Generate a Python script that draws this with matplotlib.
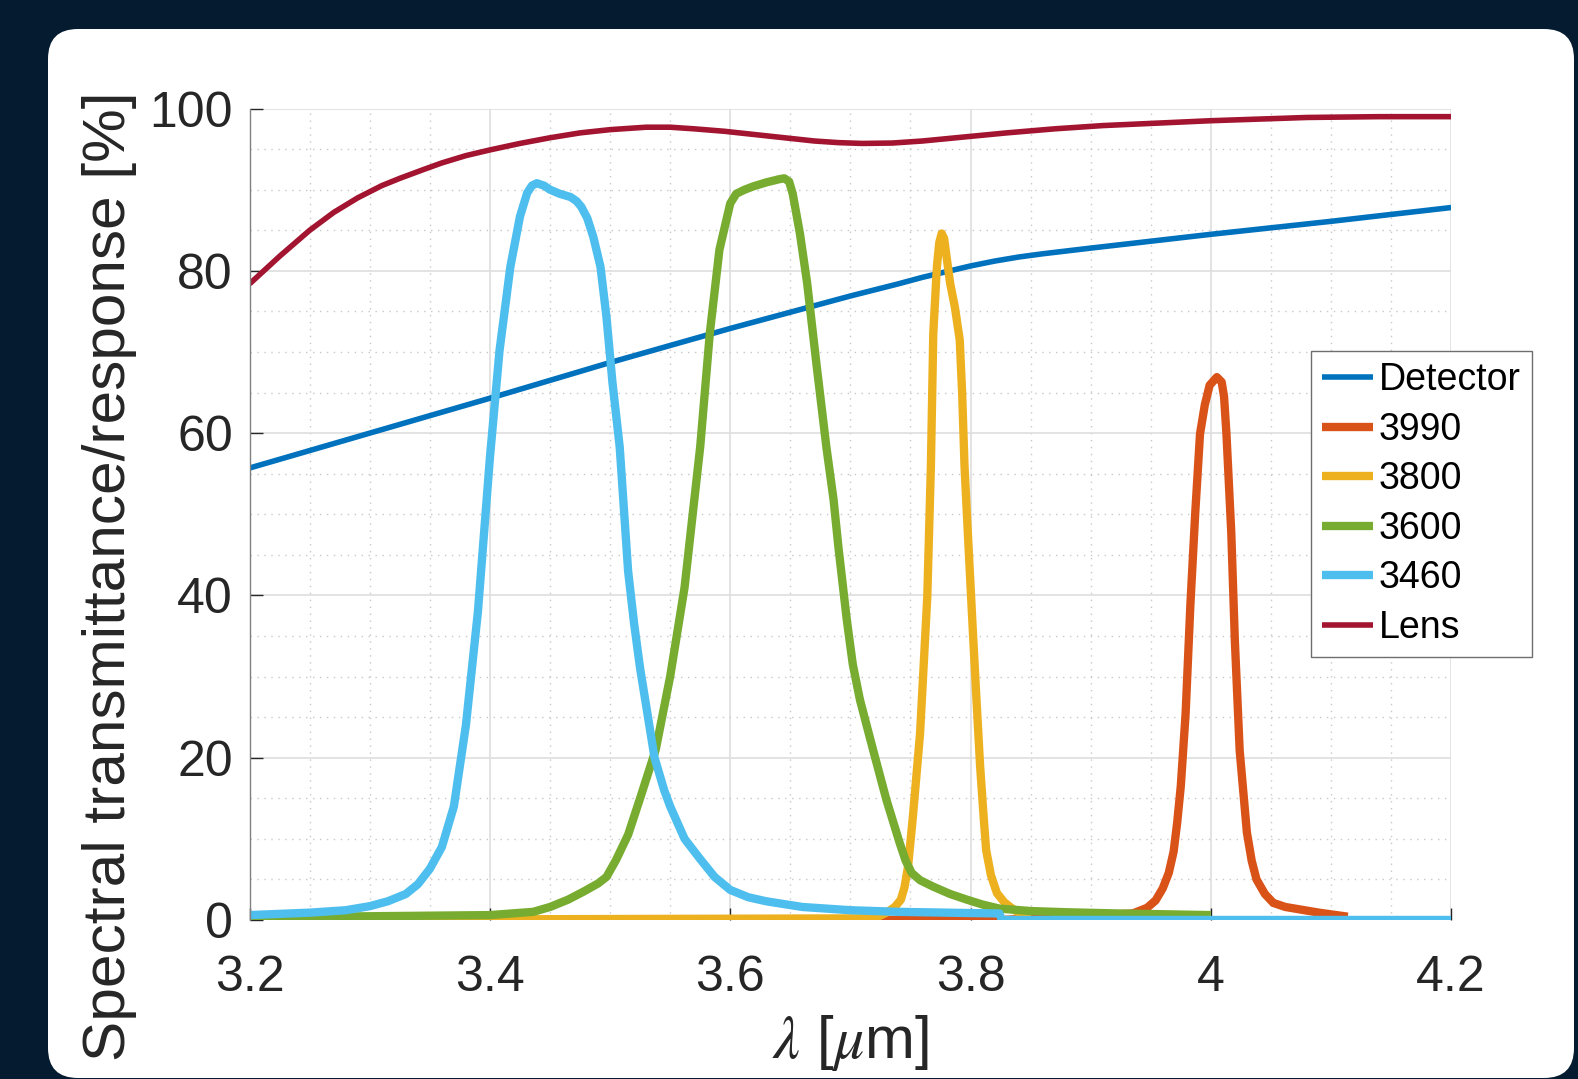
import matplotlib
matplotlib.use('Agg')
import matplotlib.pyplot as plt
import matplotlib.patches as mpatches
import matplotlib.transforms as mtrans
from matplotlib.ticker import MultipleLocator

plt.rcParams['font.family'] = ['Liberation Sans', 'DejaVu Sans']
plt.rcParams['mathtext.fontset'] = 'stix'

# wavelength [um] / value [%] pairs
det_x = [3.2, 3.3, 3.4, 3.5, 3.6, 3.7, 3.74, 3.76, 3.78, 3.8, 3.82, 3.84, 3.86, 3.9,
         4.0, 4.1, 4.2]
det_y = [55.7, 60.0, 64.3, 68.7, 72.9, 76.9, 78.4, 79.2, 79.9, 80.6, 81.2, 81.7, 82.1, 82.8,
         84.5, 86.1, 87.8]

f3990_x = [3.72, 3.826, 3.935, 3.947, 3.954, 3.96, 3.965, 3.969, 3.972, 3.975, 3.979, 3.983,
           3.987, 3.991, 3.995, 3.999, 4.005, 4.009, 4.011, 4.013, 4.017, 4.02, 4.024, 4.03,
           4.034, 4.038, 4.045, 4.052, 4.062, 4.074, 4.09, 4.114]
f3990_y = [0.0, 0.0, 0.8, 1.5, 2.4, 3.9, 5.8, 8.4, 12.0, 16.5, 25.4, 38.9,
           50.1, 59.9, 63.5, 65.9, 66.9, 66.3, 64.5, 59.9, 47.8, 34.4, 20.9, 10.8,
           7.3, 5.0, 3.2, 2.1, 1.6, 1.3, 0.9, 0.4]

f3800_x = [3.2, 3.72, 3.73, 3.737, 3.742, 3.745, 3.748, 3.752, 3.758, 3.764, 3.767, 3.769,
           3.772, 3.774, 3.776, 3.778, 3.78, 3.783, 3.787, 3.791, 3.793, 3.795, 3.798, 3.802,
           3.805, 3.808, 3.811, 3.813, 3.817, 3.822, 3.828, 3.833, 3.843, 3.85]
f3800_y = [0.0, 0.2, 0.9, 1.6, 2.5, 4.0, 6.6, 12.7, 23.0, 39.8, 55.9, 72.3,
           80.5, 83.5, 84.6, 84.0, 81.8, 78.5, 75.5, 71.5, 65.0, 55.9, 47.0, 35.4,
           27.0, 18.9, 12.5, 8.6, 5.5, 3.3, 2.2, 1.6, 0.6, 0.3]

f3600_x = [3.2, 3.25, 3.26, 3.4, 3.436, 3.45, 3.465, 3.478, 3.49, 3.497, 3.505, 3.515,
           3.525, 3.538, 3.55, 3.562, 3.568, 3.575, 3.583, 3.591, 3.6, 3.605, 3.612, 3.619,
           3.63, 3.641, 3.645, 3.649, 3.652, 3.658, 3.664, 3.672, 3.68, 3.686, 3.69, 3.697,
           3.702, 3.708, 3.719, 3.73, 3.741, 3.746, 3.751, 3.758, 3.769, 3.783, 3.797, 3.81,
           3.824, 3.85, 3.88, 3.923, 4.0]
f3600_y = [0.0, 0.1, 0.4, 0.6, 1.0, 1.6, 2.5, 3.5, 4.5, 5.3, 7.4, 10.5,
           15.0, 21.0, 30.0, 41.0, 49.0, 58.3, 72.3, 82.6, 88.3, 89.5, 90.0, 90.4,
           90.9, 91.3, 91.4, 91.0, 89.5, 84.6, 78.5, 68.2, 58.3, 51.8, 46.0, 37.0,
           31.5, 27.1, 20.9, 14.8, 9.5, 7.3, 5.8, 4.9, 4.1, 3.2, 2.5, 1.9,
           1.4, 1.1, 0.95, 0.8, 0.6]

f3460_x = [3.2, 3.25, 3.28, 3.3, 3.315, 3.33, 3.34, 3.35, 3.36, 3.37, 3.38, 3.39, 3.4,
           3.408, 3.417, 3.425, 3.431, 3.435, 3.439, 3.445, 3.45, 3.458, 3.467, 3.472,
           3.476, 3.481, 3.486, 3.492, 3.497, 3.502, 3.508, 3.515, 3.52, 3.525, 3.537,
           3.545, 3.55, 3.562, 3.575, 3.587, 3.6, 3.615, 3.63, 3.66, 3.7, 3.74, 3.8, 3.824,
           3.826, 4.2]
f3460_y = [0.6, 0.9, 1.2, 1.7, 2.3, 3.2, 4.4, 6.3, 9.0, 14.0, 24.0, 38.0, 57.0,
           70.2, 80.5, 86.7, 89.6, 90.5, 90.8, 90.5, 90.0, 89.5, 89.1, 88.6,
           87.9, 86.5, 84.2, 80.5, 74.3, 66.2, 58.3, 43.0, 36.5, 31.0, 20.0,
           16.0, 14.0, 10.0, 7.5, 5.3, 3.7, 2.8, 2.3, 1.6, 1.2, 1.0, 0.85, 0.8,
           0.0, 0.0]

lens_x = [3.2, 3.225, 3.25, 3.27, 3.29, 3.31, 3.325, 3.345, 3.36, 3.38, 3.4, 3.425, 3.45,
          3.475, 3.5, 3.53, 3.55, 3.57, 3.595, 3.62, 3.645, 3.67, 3.69, 3.71, 3.735, 3.76,
          3.795, 3.83, 3.87, 3.91, 3.955, 4.0, 4.04, 4.08, 4.14, 4.2]
lens_y = [78.4, 81.8, 85.0, 87.2, 89.0, 90.5, 91.4, 92.5, 93.3, 94.2, 94.9, 95.7, 96.4,
          97.0, 97.4, 97.7, 97.7, 97.5, 97.2, 96.8, 96.4, 96.0, 95.8, 95.7, 95.75, 96.0,
          96.5, 97.0, 97.5, 97.9, 98.2, 98.5, 98.7, 98.9, 99.0, 99.0]

fig = plt.figure(figsize=(15.78, 10.79), dpi=100, facecolor='#051b2f')

# white rounded card behind the axes (pixel coordinates)
card = mpatches.FancyBboxPatch((48, 1), 1526, 1049,
                               boxstyle='round,pad=0,rounding_size=30',
                               transform=mtrans.IdentityTransform(),
                               facecolor='white', edgecolor='none', zorder=-1)
fig.add_artist(card)

ax = fig.add_axes([0.1582, 0.1474, 0.7614, 0.752])

kw = dict(solid_joinstyle='round', solid_capstyle='butt')
ax.plot(det_x, det_y, color='#0072BD', lw=4, label='Detector', **kw)
ax.plot(f3990_x, f3990_y, color='#D95319', lw=6, label='3990', **kw)
ax.plot(f3800_x, f3800_y, color='#EDB120', lw=6, label='3800', **kw)
ax.plot(f3600_x, f3600_y, color='#77AC30', lw=6, label='3600', **kw)
ax.plot(f3460_x, f3460_y, color='#4DBEEE', lw=6, label='3460', **kw)
ax.plot(lens_x, lens_y, color='#A2142F', lw=4, label='Lens', **kw)

ax.set_xlim(3.2, 4.2)
ax.set_ylim(0, 100)
ax.xaxis.set_minor_locator(MultipleLocator(0.05))
ax.yaxis.set_major_locator(MultipleLocator(20))
ax.yaxis.set_minor_locator(MultipleLocator(5))
ax.set_xticks([3.2, 3.4, 3.6, 3.8, 4.0, 4.2])
ax.set_xticklabels(['3.2', '3.4', '3.6', '3.8', '4', '4.2'])

ax.grid(which='major', color='#dedede', lw=1.2)
ax.grid(which='minor', color='#c8c8c8', lw=1.0, ls=(0, (1, 4)))
ax.set_axisbelow(True)

for s in ['top', 'right', 'bottom']:
    ax.spines[s].set_visible(False)
ax.spines['left'].set_color('#808080')
ax.spines['left'].set_linewidth(1.0)

ax.tick_params(which='major', direction='in', length=9, width=1, color='#262626',
               labelsize=36, labelcolor='#262626')
ax.tick_params(which='minor', length=0)
ax.tick_params(axis='y', pad=12)
ax.tick_params(axis='x', pad=25)

ax.set_xlabel(r'$\lambda$ [$\mu$m]', fontsize=43, color='#262626', labelpad=9)
ax.set_ylabel('Spectral transmittance/response [%]', fontsize=43.5, color='#262626')
ax.yaxis.set_label_coords(-0.094, 0.424)

leg = ax.legend(loc='upper left', bbox_to_anchor=(1311 / 1578, 1 - 351 / 1079),
                bbox_transform=fig.transFigure, fontsize=27, frameon=True,
                fancybox=False, framealpha=1, borderpad=0.3, labelspacing=0.36,
                handlelength=1.35, handletextpad=0.15, borderaxespad=0)
leg.get_frame().set_edgecolor('#6e6e6e')
leg.get_frame().set_linewidth(1.0)

fig.savefig('out.png', dpi=100, facecolor=fig.get_facecolor())
